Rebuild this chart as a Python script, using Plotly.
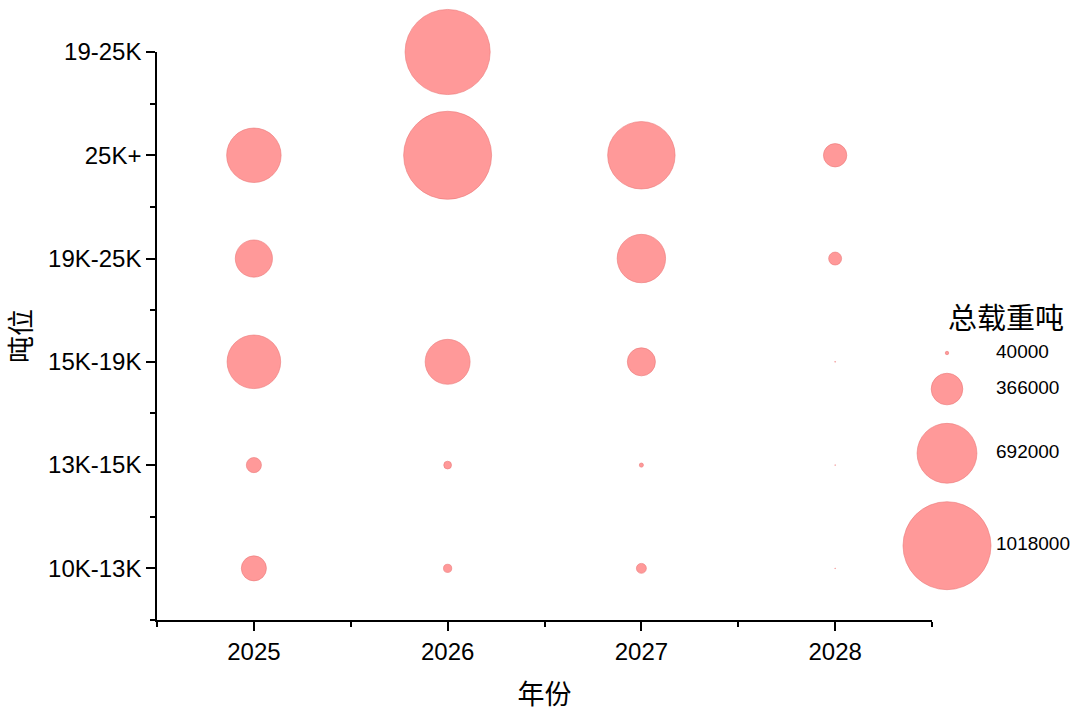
import plotly.graph_objects as go

# ---- data ----
years = [2025, 2026, 2027, 2028]
tonnage_classes = ["10K-13K", "13K-15K", "15K-19K", "19K-25K", "25K+", "19-25K"]
# total deadweight tonnage per class (rows, bottom->top) and year (cols)
dwt_10_13 = [290000, 95000, 115000, 8000]
dwt_13_15 = [175000, 90000, 48000, 8000]
dwt_15_19 = [620000, 520000, 325000, 10000]
dwt_19_25 = [430000, None, 560000, 150000]
dwt_25p = [630000, 1018000, 780000, 270000]
dwt_19_25b = [None, 985000, None, None]
legend_values = [40000, 366000, 692000, 1018000]
legend_labels = ["40000", "366000", "692000", "1018000"]

rows = [dwt_10_13, dwt_13_15, dwt_15_19, dwt_19_25, dwt_25p, dwt_19_25b]

# ---- style ----
FILL = "rgb(255,153,153)"
EDGE = "rgb(235,120,120)"
SIZEREF = 1018000 / 88.0  # px diameter of largest bubble
LATIN = "Liberation Sans, Arial, sans-serif"
CJK = "Noto Sans CJK SC, sans-serif"

W, H = 1080, 716
ML, MR, MT, MB = 157, 4, 52, 96
plot_w = W - ML - MR
main_right_px = 932
x_dom_end = (main_right_px - ML) / plot_w

xs, ys, ss = [], [], []
for yi, row in enumerate(rows):
    for xi, v in enumerate(row):
        if v is None:
            continue
        xs.append(years[xi])
        ys.append(yi)
        ss.append(v)

fig = go.Figure()
fig.add_trace(go.Scatter(
    x=xs, y=ys, mode="markers",
    marker=dict(size=ss, sizemode="diameter", sizeref=SIZEREF, sizemin=0,
                color=FILL, opacity=1, line=dict(color=EDGE, width=0.6)),
    cliponaxis=False, showlegend=False, hoverinfo="skip",
))

# ---- size legend on an overlay axis measured in pixels ----
gap = 18.5
leg_x = 947
leg_y = []
cur = 353.0
for i, v in enumerate(legend_values):
    r = v / SIZEREF / 2
    if i > 0:
        rp = legend_values[i - 1] / SIZEREF / 2
        cur = cur + rp + gap + r
    leg_y.append(cur)

fig.add_trace(go.Scatter(
    x=[leg_x] * len(legend_values), y=leg_y, mode="markers",
    marker=dict(size=legend_values, sizemode="diameter", sizeref=SIZEREF, sizemin=0,
                color=FILL, opacity=1, line=dict(color=EDGE, width=0.6)),
    xaxis="x2", yaxis="y2", cliponaxis=False, showlegend=False, hoverinfo="skip",
))
fig.add_trace(go.Scatter(
    x=[996] * len(legend_values), y=leg_y, mode="text", text=legend_labels,
    textposition="middle right", textfont=dict(family=LATIN, size=19, color="black"),
    xaxis="x2", yaxis="y2", cliponaxis=False, showlegend=False, hoverinfo="skip",
))
fig.add_trace(go.Scatter(
    x=[1006], y=[322], mode="text", text=["总载重吨"],
    textposition="middle center", textfont=dict(family=CJK, size=29, color="black"),
    xaxis="x2", yaxis="y2", cliponaxis=False, showlegend=False, hoverinfo="skip",
))

axis_common = dict(showgrid=False, zeroline=False, showline=True, linecolor="black",
                   linewidth=1.5, ticks="outside", tickcolor="black", tickwidth=1.5,
                   ticklen=9, tickfont=dict(family=LATIN, size=24, color="black"),
                   automargin=False)

fig.update_layout(
    width=W, height=H,
    margin=dict(l=ML, r=MR, t=MT, b=MB),
    paper_bgcolor="white", plot_bgcolor="rgba(0,0,0,0)",
    xaxis=dict(**axis_common, domain=[0, x_dom_end], range=[2024.5, 2028.5],
               tickvals=years, ticktext=[str(y) for y in years],
               minor=dict(ticks="outside", ticklen=5, tickcolor="black", tickwidth=1.5,
                          tick0=2024.5, dtick=1),
               title=dict(text="年份", font=dict(family=CJK, size=27, color="black"),
                          standoff=22),
               anchor="y"),
    yaxis=dict(**axis_common, domain=[0, 1], range=[-0.5, 5],
               tickvals=list(range(len(tonnage_classes))), ticktext=tonnage_classes,
               minor=dict(ticks="outside", ticklen=5, tickcolor="black", tickwidth=1.5,
                          tick0=0.5, dtick=1),
               title=dict(text="吨位", font=dict(family=CJK, size=27, color="black"),
                          standoff=16),
               anchor="x"),
    xaxis2=dict(domain=[0, 1], range=[ML, W - MR], visible=False, anchor="y2",
                fixedrange=True),
    yaxis2=dict(domain=[0, 1], range=[H - MB, MT], visible=False, anchor="x2",
                fixedrange=True),
)

fig.write_html("out.html", config={"displayModeBar": False},
               post_script="document.body.style.margin='0';")
